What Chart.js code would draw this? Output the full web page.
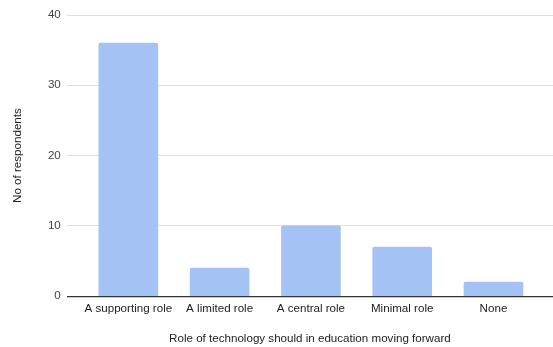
<!DOCTYPE html>
<html>
<head>
<meta charset="utf-8">
<script src="https://cdn.jsdelivr.net/npm/chart.js@4/dist/chart.umd.min.js"></script>
<style>
  html, body { margin: 0; padding: 0; background: #fff; }
  #wrap { width: 553px; height: 347px; }
</style>
</head>
<body>
<div id="wrap"><canvas id="c" width="553" height="347"></canvas></div>
<script>
const categories = ["A supporting role", "A limited role", "A central role", "Minimal role", "None"];
const respondents = [36, 4, 10, 7, 2];
const yTicks = [0, 10, 20, 30, 40];
const xTitle = "Role of technology should in education moving forward";
const yTitle = "No of respondents";

const font = { family: "'Liberation Sans', Arial, sans-serif", size: 11.6 };

new Chart(document.getElementById('c'), {
  type: 'bar',
  data: {
    datasets: [{
      data: respondents.map((v, i) => ({ x: i, y: v })),
      backgroundColor: '#a4c2f4',
      borderRadius: 2,
      borderSkipped: 'bottom',
      barThickness: 59
    }]
  },
  options: {
    responsive: false,
    animation: false,
    devicePixelRatio: 1,
    layout: { padding: { top: 15, right: 0, bottom: 1, left: 11 } },
    plugins: { legend: { display: false }, tooltip: { enabled: false } },
    scales: {
      x: {
        type: 'linear',
        offset: false,
        min: -0.674,
        max: 4.652,
        afterBuildTicks: s => { s.ticks = categories.map((_, i) => ({ value: i })); },
        ticks: {
          font, color: '#222', padding: 6, maxRotation: 0, autoSkip: false,
          callback: v => categories[v]
        },
        grid: { display: false, drawTicks: false },
        border: { display: false },
        title: { display: true, text: xTitle, font, color: '#222', padding: { top: 10, bottom: 0 } }
      },
      y: {
        min: 0, max: 40,
        afterBuildTicks: s => { s.ticks = yTicks.map(v => ({ value: v })); },
        ticks: { font, color: '#444', padding: 6 },
        grid: {
          drawTicks: false,
          color: ctx => ctx.tick && ctx.tick.value === 0 ? '#333' : '#dedede',
          lineWidth: ctx => ctx.tick && ctx.tick.value === 0 ? 1.2 : 1
        },
        border: { display: false },
        title: { display: true, text: yTitle, font, color: '#222', padding: { top: 0, bottom: 17 } }
      }
    }
  }
});
</script>
</body>
</html>
